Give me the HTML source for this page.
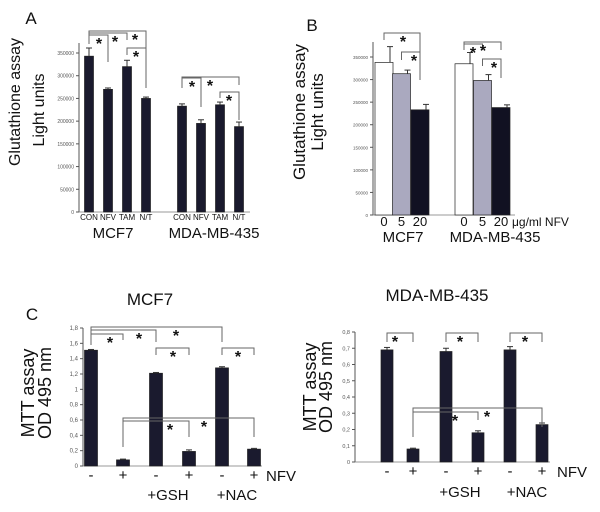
<!DOCTYPE html>
<html><head><meta charset="utf-8"><style>
html,body{margin:0;padding:0;background:#fff;}
svg{display:block;font-family:"Liberation Sans",sans-serif;}
</style></head><body>
<svg id="fig" width="600" height="512" viewBox="0 0 600 512" xmlns="http://www.w3.org/2000/svg"></svg>
<script>
// Panel A data
const aCategories = ["CON","NFV","TAM","N/T","CON","NFV","TAM","N/T"];
const aValues = [343000,270000,320000,250000,233000,195000,236000,188000];
const aErrors = [18000,3000,14000,3000,5000,8000,6000,10000];
const aTicks = [0,50000,100000,150000,200000,250000,300000,350000];
// Panel B data
const bCategories = ["0","5","20","0","5","20"];
const bValues = [338000,313000,233000,335000,298000,238000];
const bErrors = [35000,8000,12000,25000,13000,6000];
const bTicks = [0,50000,100000,150000,200000,250000,300000,350000];
// Panel C (MCF7) data
const cCategories = ["-","+","-","+","-","+"];
const cValues = [1.51,0.08,1.21,0.19,1.28,0.22];
const cErrors = [0.01,0.01,0.01,0.02,0.015,0.01];
const cTicks = ["0","0,2","0,4","0,6","0,8","1","1,2","1,4","1,6","1,8"];
// Panel D (MDA-MB-435) data
const dCategories = ["-","+","-","+","-","+"];
const dValues = [0.69,0.08,0.68,0.18,0.69,0.23];
const dErrors = [0.015,0.005,0.02,0.012,0.02,0.01];
const dTicks = ["0","0,1","0,2","0,3","0,4","0,5","0,6","0,7","0,8"];

const svg = document.getElementById('fig');
const NS = 'http://www.w3.org/2000/svg';
function mk(tag, attrs, parent, text){
  const e = document.createElementNS(NS, tag);
  for (const k in attrs) e.setAttribute(k, attrs[k]);
  if (text !== undefined) e.textContent = text;
  (parent || svg).appendChild(e);
  return e;
}
function txt(x,y,s,size,name,anchor,extra){
  const t = mk('text',Object.assign({x:x,y:y,'font-size':size,'text-anchor':anchor||'middle',fill:'#111'},extra||{}),svg,s);
  
  
  return t;
}

function panel(cfg){
  const g = mk('g',{});
  
  
  const yScale = v => cfg.y0 - (v - cfg.vmin) / (cfg.vmax - cfg.vmin) * (cfg.y0 - cfg.y1);
  const ax = mk('line',{x1:cfg.ax,y1:cfg.y0,x2:cfg.ax,y2:cfg.axTop,stroke:'#555','stroke-width':1},g);
  
  
  const bx = mk('line',{x1:cfg.ax,y1:cfg.y0,x2:cfg.axRight,y2:cfg.y0,stroke:'#777','stroke-width':0.8},g);
  
  
  cfg.ticks.forEach((t,i)=>{
    const v = cfg.tickVals[i];
    const y = yScale(v);
    mk('line',{x1:cfg.ax-3,y1:y,x2:cfg.ax,y2:y,stroke:'#555'},g);
    const tl = mk('text',{x:cfg.ax-5,y:y+2,'font-size':cfg.tickFont,'text-anchor':'end',fill:'#555'},g,t);
    
    
  });
  cfg.values.forEach((v,i)=>{
    const cx = cfg.centers[i];
    const y = yScale(v);
    const fill = cfg.fills ? cfg.fills[i] : '#1a1a2e';
    const r = mk('rect',{x:cx-cfg.bw/2,y:y,width:cfg.bw,height:cfg.y0-y,fill:fill,stroke:'#222','stroke-width':0.7},g);
    
    
    const ye = yScale(v + cfg.errors[i]);
    const ex = cfg.errRight ? cx + cfg.bw/2 - 3 : cx;
    mk('line',{x1:ex,y1:y,x2:ex,y2:ye,stroke:'#333'},g);
    mk('line',{x1:ex-3,y1:ye,x2:ex+3,y2:ye,stroke:'#333'},g);
    const cl = mk('text',{x:cx,y:cfg.catY,'font-size':cfg.catFont,'text-anchor':'middle',fill:'#111'},g,cfg.cats[i]);
    
    
  });
  // brackets: [i, j, top, leftEnd, rightEnd, starX]
  cfg.brackets.forEach(b=>{
    const x1 = cfg.centers[b[0]], x2 = cfg.centers[b[1]];
    const yt = b[2];
    mk('path',{d:`M${x1},${b[3]} L${x1},${yt} L${x2},${yt} L${x2},${b[4]}`,fill:'none',stroke:'#666','stroke-width':1},g);
    const s = mk('text',{x:b[5],y:yt+14,'font-size':16,'font-weight':'bold','text-anchor':'middle',fill:'#111'},g,'*');
    
    
  });
}

// Panel A
panel({name:'panel-a-chart',ax:79,axTop:43,axRight:250,y0:212,y1:53,vmin:0,vmax:350000,
  ticks:aTicks.map(String),tickVals:aTicks,tickFont:5,values:aValues,errors:aErrors,
  centers:[89,108,127,146,182,201,220,239],bw:9,cats:aCategories,catY:220,catFont:8,
  brackets:[[0,1,35,44,62,99],[0,2,33,44,40,115],[0,3,31,44,88,135],[2,3,48,55,88,136],
            [4,5,78,88,107,192],[4,7,77,88,85,210],[6,7,92,98,120,229]]});
txt(31,24,'A',17,'panel-a-label');
txt(20,102,'Glutathione assay',16,'y-axis-title-a','middle',{transform:'rotate(-90 20 102)'});
txt(44,110,'Light units',16,'y-axis-subtitle-a','middle',{transform:'rotate(-90 44 110)'});
txt(113,238,'MCF7',15,'group-label-mcf7-a');
txt(214,238,'MDA-MB-435',15,'group-label-mda-a');

// Panel B
panel({name:'panel-b-chart',ax:373,axTop:42,axRight:515,y0:215,y1:57,vmin:0,vmax:350000,
  ticks:bTicks.map(String),tickVals:bTicks,tickFont:4.5,values:bValues,errors:bErrors,
  centers:[384,401.5,420,464,482.5,501],bw:18,errRight:true,
  fills:['#ffffff','#aaa9bf','#111122','#ffffff','#aaa9bf','#111122'],
  cats:bCategories,catY:226,catFont:13,
  brackets:[[0,2,33,40,80,403],[1,2,52,60,80,414],[3,4,44,50,50,473],[3,5,42,50,50,483],[4,5,59,66,78,494]]});
txt(312,31,'B',17,'panel-b-label');
txt(305,112,'Glutathione assay',17,'y-axis-title-b','middle',{transform:'rotate(-90 305 112)'});
txt(323,112,'Light units',17,'y-axis-subtitle-b','middle',{transform:'rotate(-90 323 112)'});
txt(512,226,'μg/ml NFV',12,'unit-label-b','start');
txt(403,242,'MCF7',15,'group-label-mcf7-b');
txt(495,242,'MDA-MB-435',15,'group-label-mda-b');

// Panel C
const cTickVals = cTicks.map((t,i)=>i*0.2);
panel({name:'panel-c-mcf7-chart',ax:83,axTop:328,axRight:262,y0:466,y1:328,vmin:0,vmax:1.8,
  ticks:cTicks,tickVals:cTickVals,tickFont:6,values:cValues,errors:cErrors,
  centers:[91,123,156,189,222,254],bw:13,cats:cCategories,catY:480,catFont:15,
  brackets:[[0,1,334,345,340,110],[0,2,330,345,342,139],[0,4,327,345,342,176],[2,3,348,355,355,173],[4,5,348,355,355,238],
            [1,3,421,447,437,170],[1,5,418,447,437,204]]});
txt(32,320,'C',17,'panel-c-label');
txt(150,305,'MCF7',17,'chart-title-mcf7');
txt(34,393,'MTT assay',18,'y-axis-title-c','middle',{transform:'rotate(-90 34 393)'});
txt(51,393,'OD 495 nm',18,'y-axis-subtitle-c','middle',{transform:'rotate(-90 51 393)'});
txt(266,481,'NFV',15,'nfv-label-c','start');
txt(168,500,'+GSH',15,'gsh-label-c');
txt(237,500,'+NAC',15,'nac-label-c');

// Panel D
const dTickVals = dTicks.map((t,i)=>i*0.1);
panel({name:'panel-d-mda-chart',ax:355,axTop:332,axRight:550,y0:462,y1:332,vmin:0,vmax:0.8,
  ticks:dTicks,tickVals:dTickVals,tickFont:5.5,values:dValues,errors:dErrors,
  centers:[387,413,446,478,510,542],bw:12,cats:dCategories,catY:476,catFont:15,
  brackets:[[0,1,333,342,342,395],[2,3,333,342,342,460],[4,5,333,342,342,525],
            [1,3,412,437,420,455],[1,5,408,437,427,487]]});
txt(437,301,'MDA-MB-435',17,'chart-title-mda');
txt(316,387,'MTT assay',18,'y-axis-title-d','middle',{transform:'rotate(-90 316 387)'});
txt(332,387,'OD 495 nm',18,'y-axis-subtitle-d','middle',{transform:'rotate(-90 332 387)'});
txt(557,477,'NFV',15,'nfv-label-d','start');
txt(460,497,'+GSH',15,'gsh-label-d');
txt(527,497,'+NAC',15,'nac-label-d');
</script>
</body></html>
